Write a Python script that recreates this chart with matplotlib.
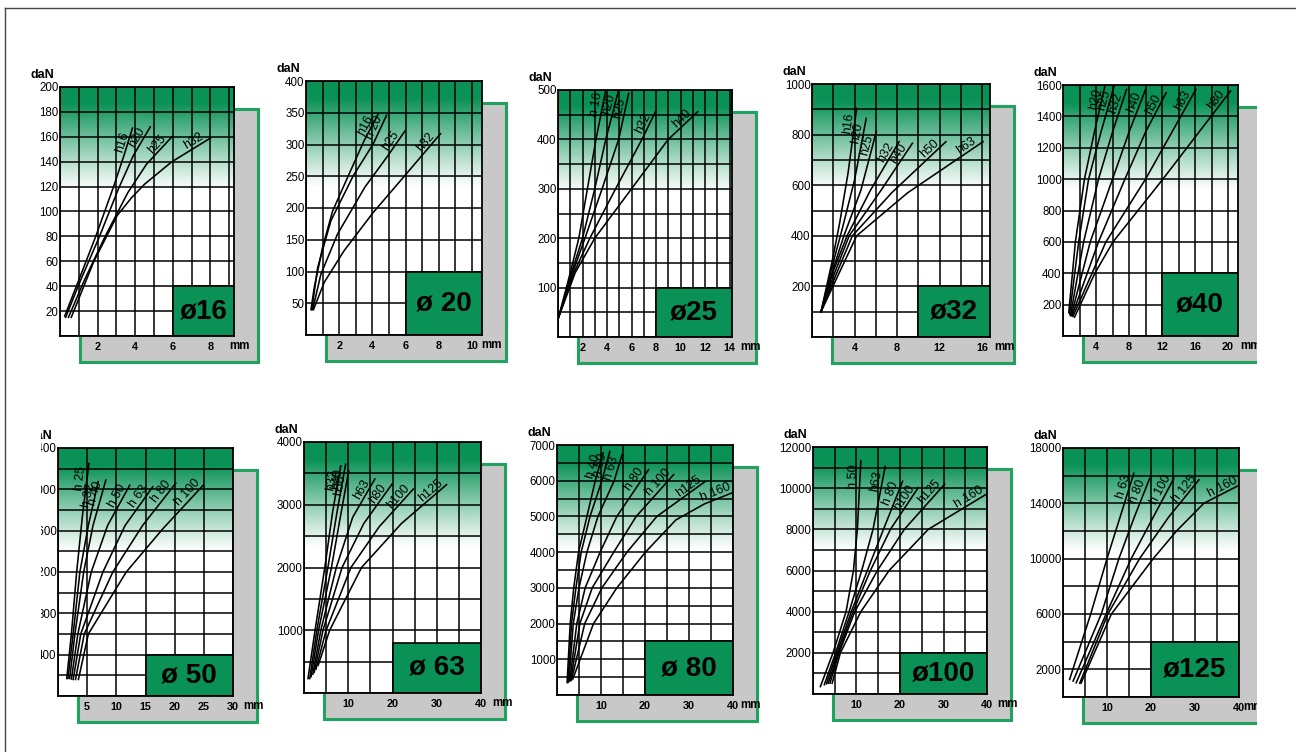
import numpy as np
import matplotlib.pyplot as plt
from matplotlib.patches import Rectangle
from matplotlib.colors import to_rgb

plt.rcParams['font.family'] = ['Liberation Sans', 'DejaVu Sans']

W, H = 1296, 752
GREEN = '#0a9256'
EDGE = '#1fa35f'
GRAY = '#c8c8c8'

# ---- values: deflection (mm) vs load (daN) ----
# ø16
h16 = ['h16', 'h20', 'h25', 'h32']
x16 = [[0.25, 1.0, 1.9, 2.85, 3.4, 3.85], [0.3, 1.1, 2.1, 3.1, 3.9, 4.8],
       [0.45, 1.3, 2.4, 3.6, 4.6, 5.95], [0.6, 1.8, 3.05, 3.8, 4.5, 5.95, 8.0]]
y16 = [[16, 45, 80, 120, 145, 167], [15, 45, 80, 118, 145, 168],
       [15, 45, 80, 115, 138, 160], [15, 60, 97, 111, 122, 140, 159]]
# ø20
h20 = ['h16', 'h 20', 'h25', 'h32']
x20 = [[0.3, 0.5, 1.0, 1.6, 2.5, 3.5, 4.35], [0.35, 0.7, 1.5, 2.85, 4.05, 4.85],
       [0.4, 0.9, 1.9, 3.55, 4.95, 5.95], [0.45, 1.1, 2.3, 4.05, 6.05, 8.1]]
y20 = [[40, 75, 138, 195, 248, 306, 348], [40, 106, 180, 251, 301, 346],
       [40, 96, 159, 233, 283, 321], [40, 83, 133, 193, 254, 317]]
# ø25
h25 = ['h 16', 'h20', 'h25', 'h32', 'h40']
x25 = [[0.05, 1.0, 1.7, 2.4, 3.1, 3.9], [0.05, 1.1, 2.0, 3.0, 3.9, 4.95],
       [0.05, 1.2, 2.2, 3.6, 4.95, 5.77], [0.05, 1.3, 2.6, 4.7, 6.85, 7.95],
       [0.05, 1.4, 3.0, 6.0, 9.0, 11.4]]
y25 = [[40, 130, 200, 300, 400, 500], [40, 130, 200, 300, 400, 500],
       [40, 130, 200, 300, 400, 493], [40, 130, 200, 300, 400, 456],
       [40, 130, 200, 300, 400, 456]]
# ø32
h32 = ['h16', 'h20', 'h25', 'h32', 'h40', 'h50', 'h63']
x32 = [[0.85, 1.9, 2.6, 3.4, 4.2], [0.85, 1.9, 2.8, 4.0, 5.1],
       [0.85, 2.0, 3.0, 4.6, 6.05], [0.85, 2.0, 3.3, 5.5, 8.2],
       [0.85, 2.1, 3.5, 6.5, 9.45], [0.85, 2.2, 3.8, 7.5, 12.6],
       [0.85, 2.3, 4.2, 9.0, 16.1]]
y32 = [[100, 300, 450, 650, 904], [100, 280, 420, 620, 864],
       [100, 270, 400, 580, 812], [100, 260, 400, 580, 772],
       [100, 250, 400, 580, 766], [100, 240, 400, 570, 772],
       [100, 230, 400, 570, 772]]
# ø40
h40 = ['h20', 'h25', 'h32', 'h40', 'h50', 'h63', 'h80']
x40 = [[0.7, 1.5, 2.6, 3.8, 5.1], [0.8, 1.9, 3.1, 4.6, 6.2],
       [0.9, 2.5, 4.3, 6.0, 7.7], [1.0, 3.3, 6.0, 8.0, 10.0],
       [1.1, 4.3, 7.5, 10.0, 12.5], [1.2, 5.2, 10.0, 13.2, 16.1],
       [1.4, 3.86, 6.06, 12.1, 20.3]]
y40 = [[150, 600, 1000, 1300, 1600], [140, 600, 1000, 1300, 1594],
       [130, 600, 1000, 1300, 1572], [130, 600, 1000, 1300, 1572],
       [130, 600, 1000, 1300, 1551], [125, 600, 1000, 1300, 1572],
       [120, 400, 600, 1000, 1562]]
# ø50
h50 = ['h 25', 'h 32', 'h 40', 'h 50', 'h 63', 'h 80', 'h 100']
x50 = [[1.5, 2.3, 3.2, 4.2, 5.3], [1.7, 2.6, 3.75, 5.2, 6.9],
       [2.0, 2.9, 4.4, 6.0, 8.2], [2.3, 3.4, 5.7, 8.5, 12.3],
       [2.6, 3.9, 7.7, 11.5, 16.25], [3.0, 4.5, 9.4, 14.5, 20.2],
       [3.5, 5.2, 11.7, 18.0, 24.9]]
y50 = [[170, 600, 1200, 1750, 2250], [170, 600, 1200, 1650, 2075],
       [170, 600, 1200, 1650, 2090], [165, 600, 1200, 1650, 2040],
       [160, 600, 1200, 1650, 2025], [160, 600, 1200, 1650, 2060],
       [160, 600, 1200, 1620, 2040]]
# ø63
h63 = ['h32', 'h40', 'h50', 'h63', 'h80', 'h100', 'h125']
x63 = [[0.9, 2.5, 4.7, 6.5, 8.3], [1.3, 2.9, 5.4, 7.5, 9.4],
       [1.6, 3.3, 6.2, 8.2, 10.1], [2.0, 3.8, 7.3, 11.0, 16.0],
       [2.3, 4.3, 8.6, 13.5, 19.9], [2.7, 5.0, 10.6, 17.0, 24.7],
       [3.2, 5.8, 13.0, 22.0, 32.2]]
y63 = [[230, 1000, 2000, 2900, 3620], [230, 1000, 2000, 2900, 3645],
       [260, 1000, 2000, 2800, 3540], [300, 1000, 2000, 2800, 3410],
       [330, 1000, 2000, 2700, 3330], [380, 1000, 2000, 2650, 3250],
       [440, 1000, 2000, 2700, 3320]]
# ø80
h80 = ['h 40', 'h 50', 'h 63', 'h 80', 'h 100', 'h125', 'h 160']
x80 = [[2.3, 3.0, 3.8, 4.9, 6.8, 8.7, 10.5], [2.5, 3.3, 4.3, 5.5, 7.5, 10.2, 12.0],
       [2.7, 3.7, 5.0, 6.8, 9.3, 13.0, 14.8], [2.9, 4.5, 6.4, 9.8, 13.6, 20.8],
       [3.1, 5.2, 8.0, 12.9, 18.0, 26.5], [3.3, 6.3, 10.2, 15.9, 22.7, 33.7],
       [3.6, 8.3, 13.6, 20.1, 27.0, 33.5, 40.0]]
y80 = [[350, 2000, 3000, 4000, 5000, 6000, 6780], [350, 2000, 3000, 4000, 5000, 6000, 6820],
       [380, 2000, 3000, 4000, 5000, 6000, 6730], [400, 2000, 3000, 4000, 5000, 6310],
       [400, 2000, 3000, 4000, 5000, 6170], [420, 2000, 3000, 4000, 5000, 5980],
       [450, 2000, 3000, 4000, 4900, 5350, 5670]]
# ø100
h100 = ['h 50', 'h63', 'h 80', 'h100', 'h125', 'h 160']
x100 = [[1.7, 4.6, 7.6, 9.3, 10.2, 11.0], [2.6, 5.2, 8.3, 11.2, 13.8, 16.6],
        [3.1, 5.5, 8.8, 12.5, 16.2, 20.6], [3.5, 5.8, 9.2, 13.2, 17.8, 24.2],
        [3.9, 6.0, 9.6, 14.8, 21.0, 30.3], [4.4, 6.3, 11.0, 17.5, 26.5, 39.8]]
y100 = [[360, 2000, 4000, 6000, 8000, 11340], [450, 2000, 4000, 6000, 8000, 11050],
        [500, 2000, 4000, 6000, 8000, 10330], [520, 2000, 4000, 6000, 8000, 10030],
        [530, 2000, 4000, 6000, 8000, 10200], [520, 2000, 4000, 6000, 8000, 9700]]
# ø125
h125 = ['h 63', 'h 80', 'h 100', 'h 125', 'h 160']
x125 = [[1.5, 6.3, 10.0, 16.1], [2.3, 8.7, 12.7, 16.2, 19.7],
        [3.0, 9.8, 15.5, 20.5, 25.2], [3.8, 10.2, 17.4, 24.0, 30.9],
        [4.1, 11.0, 20.5, 25.8, 32.0, 40.2]]
y125 = [[1270, 6000, 10000, 16170], [1150, 6000, 10000, 13000, 15800],
        [1030, 6000, 10000, 13000, 15800], [1000, 6000, 10000, 13000, 15700],
        [1000, 6000, 10000, 12000, 14000, 15340]]

# axis ranges, grid steps, labelled ticks, size-label box (x start, top)
titles = ['ø16', 'ø 20', 'ø25', 'ø32', 'ø40', 'ø 50', 'ø 63', 'ø 80', 'ø100', 'ø125']
names = [h16, h20, h25, h32, h40, h50, h63, h80, h100, h125]
xs_all = [x16, x20, x25, x32, x40, x50, x63, x80, x100, x125]
ys_all = [y16, y20, y25, y32, y40, y50, y63, y80, y100, y125]
xmax = [9.25, 10.6, 14.2, 16.75, 21.2, 30, 40, 40, 40, 40]
ymax = [200, 400, 500, 1000, 1600, 2400, 4000, 7000, 12000, 18000]
xstep = [1, 1, 1, 2, 2, 5, 5, 5, 5, 5]
ystep = [20, 50, 50, 100, 200, 200, 500, 500, 1000, 2000]
xlab = [[2, 4, 6, 8], [2, 4, 6, 8, 10], [2, 4, 6, 8, 10, 12, 14], [4, 8, 12, 16],
        [4, 8, 12, 16, 20], [5, 10, 15, 20, 25, 30], [10, 20, 30, 40],
        [10, 20, 30, 40], [10, 20, 30, 40], [10, 20, 30, 40]]
ylab = [list(range(20, 201, 20)), list(range(50, 401, 50)), list(range(100, 501, 100)),
        list(range(200, 1001, 200)), list(range(200, 1601, 200)), list(range(400, 2401, 400)),
        [1000, 2000, 3000, 4000], list(range(1000, 7001, 1000)),
        list(range(2000, 12001, 2000)), [2000, 6000, 10000, 14000, 18000]]
box_x0 = [6, 6, 8, 10, 12, 15, 20, 20, 20, 20]
box_y1 = [40, 100, 100, 200, 400, 400, 800, 1500, 2000, 4000]

# layout in pixels: left, top, right, bottom of each plot frame; 'mm' offset
frames = [(60, 87, 234, 336), (306, 81, 482, 335), (558, 90, 732, 337),
          (812, 84, 990, 337), (1063, 85, 1238, 336), (58, 448, 233, 696),
          (304, 442, 481, 693), (557, 445, 733, 695), (813, 447, 987, 694),
          (1063, 448, 1239, 697)]
mm_dx = [-5, -1, 8, 4, 2, 10, 11, 7, 10, 4]

fig = plt.figure(figsize=(W / 100, H / 100), dpi=100)
fig.patch.set_facecolor('white')

bg = fig.add_axes([0, 0, 1, 1], zorder=0)
bg.set_xlim(0, W)
bg.set_ylim(H, 0)
bg.axis('off')

top = fig.add_axes([0, 0, 1, 1], zorder=10)
top.set_xlim(0, W)
top.set_ylim(H, 0)
top.axis('off')
top.patch.set_alpha(0)

# green fade at the top of each grid
n = 256
t = np.linspace(0, 1, n)[:, None]
fade = np.zeros((n, 1, 4))
fade[..., :3] = to_rgb(GREEN)
fade[..., 3] = np.clip((0.42 - t) / 0.35, 0, 1) ** 1.1


def curve_label(ax, xs, ys, text, back=16):
    pts = ax.transData.transform(np.column_stack([xs, ys]))
    seg = np.diff(pts, axis=0)
    lens = np.hypot(seg[:, 0], seg[:, 1])
    rem = back
    i = len(seg) - 1
    while i > 0 and lens[i] < rem:
        rem -= lens[i]
        i -= 1
    frac = max(0.0, 1 - rem / lens[i])
    p = pts[i] + seg[i] * frac
    ang = np.degrees(np.arctan2(seg[i, 1], seg[i, 0]))
    x, y = ax.transData.inverted().transform(p)
    ax.text(x, y, text, rotation=ang, rotation_mode='anchor', ha='center',
            va='bottom', fontsize=9, zorder=4)


for k in range(10):
    l, tp, r, b = frames[k]
    # grey shadow card with green rim
    bg.add_patch(Rectangle((l + 20, tp + 22), r - l + 4, b - tp + 4,
                           facecolor=GRAY, edgecolor=EDGE, lw=2.2))

    ax = fig.add_axes([l / W, 1 - b / H, (r - l) / W, (b - tp) / H], zorder=2)
    ax.imshow(fade, extent=(0, xmax[k], 0, ymax[k]), aspect='auto',
              origin='upper', zorder=0, interpolation='bilinear')
    ax.set_xlim(0, xmax[k])
    ax.set_ylim(0, ymax[k])

    ax.set_xticks(xlab[k])
    ax.set_xticklabels([str(v) for v in xlab[k]], fontsize=7.8, fontweight='bold')
    ax.set_xticks(np.arange(0, xmax[k] + 1e-9, xstep[k]), minor=True)
    ax.set_yticks(ylab[k])
    ax.set_yticklabels([str(v) for v in ylab[k]], fontsize=8.3)
    ax.set_yticks(np.arange(0, ymax[k] + 1e-9, ystep[k]), minor=True)
    ax.tick_params(which='both', length=0)
    ax.tick_params(axis='y', pad=1)
    ax.tick_params(axis='x', pad=4)
    ax.set_axisbelow(True)
    ax.grid(which='both', color='black', lw=1.1)
    for s in ax.spines.values():
        s.set_linewidth(1.3)
        s.set_color('black')
    ax.patch.set_facecolor('white')

    ax.add_patch(Rectangle((box_x0[k], 0), xmax[k] - box_x0[k], box_y1[k],
                           facecolor=GREEN, edgecolor='black', lw=1.2, zorder=1.5))
    ax.text((box_x0[k] + xmax[k]) / 2, box_y1[k] / 2, titles[k], ha='center',
            va='center', fontsize=20, fontweight='bold', zorder=2)

    for xs, ys, name in zip(xs_all[k], ys_all[k], names[k]):
        ax.plot(xs, ys, color='black', lw=1.15, zorder=3)
        curve_label(ax, xs, ys, name)

    ax.annotate('daN', (0, 1), xycoords='axes fraction', xytext=(-6, 12),
                textcoords='offset pixels', ha='right', va='center',
                fontsize=9, fontweight='bold')
    ax.annotate('mm', (1, 0), xycoords='axes fraction', xytext=(mm_dx[k], -10),
                textcoords='offset pixels', ha='left', va='center',
                fontsize=8.3, fontweight='bold')

# scan is cropped on both sides
top.add_patch(Rectangle((1257, 20), W - 1257, H - 20, facecolor='white', edgecolor='none'))
top.add_patch(Rectangle((6, 400), 35, H - 400, facecolor='white', edgecolor='none'))
top.plot([5, W], [8, 8], color='#444444', lw=1)
top.plot([5, 5], [8, H], color='#444444', lw=1)

fig.savefig('out.png', dpi=100)
